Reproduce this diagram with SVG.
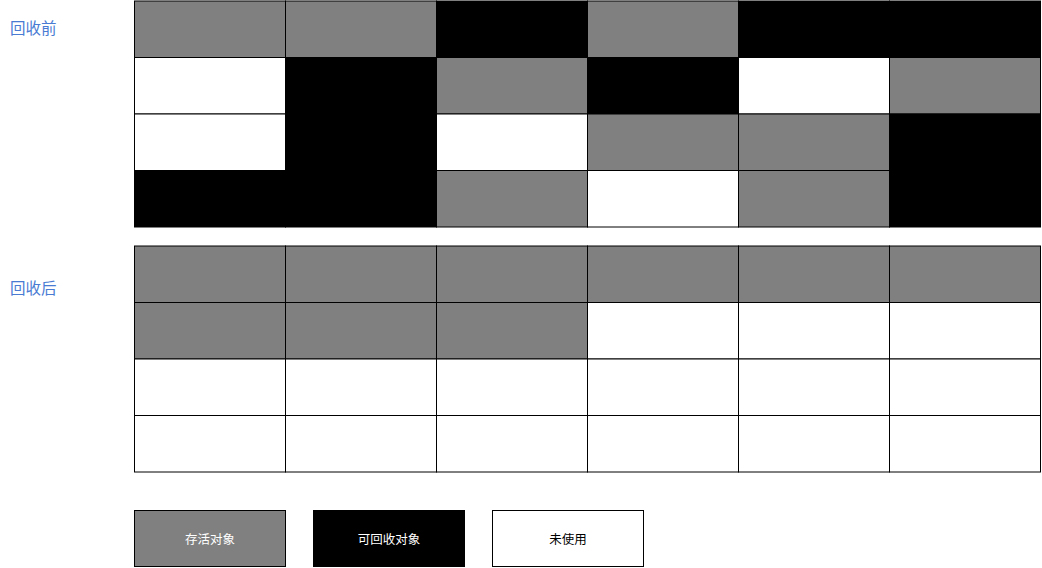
<svg xmlns="http://www.w3.org/2000/svg" width="1042" height="568" viewBox="0 0 1042 568">
<style>
.g{fill:#808080;stroke:#000;stroke-width:1}
.b{fill:#000;stroke:#000;stroke-width:1}
.w{fill:#fff;stroke:#000;stroke-width:1}
.lbl{font-family:"Noto Sans CJK SC","Liberation Sans",sans-serif;font-size:15.5px;fill:#4a7bd3}
.lt{font-family:"Noto Sans CJK SC","Liberation Sans",sans-serif;font-size:12.5px;text-anchor:middle;dominant-baseline:central}
</style>
<rect width="1042" height="568" fill="#fff"/>
<text class="lbl" x="10" y="34">回收前</text>
<text class="lbl" x="10" y="294">回收后</text>
<g id="before">
<rect class="g" x="134.5" y="1" width="151" height="56.5"/>
<rect class="g" x="285.5" y="1" width="151" height="56.5"/>
<rect class="b" x="436.5" y="1" width="151" height="56.5"/>
<rect class="g" x="587.5" y="1" width="151" height="56.5"/>
<rect class="b" x="738.5" y="1" width="151" height="56.5"/>
<rect class="b" x="889.5" y="1" width="151" height="56.5"/>
<rect class="w" x="134.5" y="57.5" width="151" height="56.5"/>
<rect class="b" x="285.5" y="57.5" width="151" height="56.5"/>
<rect class="g" x="436.5" y="57.5" width="151" height="56.5"/>
<rect class="b" x="587.5" y="57.5" width="151" height="56.5"/>
<rect class="w" x="738.5" y="57.5" width="151" height="56.5"/>
<rect class="g" x="889.5" y="57.5" width="151" height="56.5"/>
<rect class="w" x="134.5" y="114" width="151" height="56.5"/>
<rect class="b" x="285.5" y="114" width="151" height="56.5"/>
<rect class="w" x="436.5" y="114" width="151" height="56.5"/>
<rect class="g" x="587.5" y="114" width="151" height="56.5"/>
<rect class="g" x="738.5" y="114" width="151" height="56.5"/>
<rect class="b" x="889.5" y="114" width="151" height="56.5"/>
<rect class="b" x="134.5" y="170.5" width="151" height="56.5"/>
<rect class="b" x="285.5" y="170.5" width="151" height="56.5"/>
<rect class="g" x="436.5" y="170.5" width="151" height="56.5"/>
<rect class="w" x="587.5" y="170.5" width="151" height="56.5"/>
<rect class="g" x="738.5" y="170.5" width="151" height="56.5"/>
<rect class="b" x="889.5" y="170.5" width="151" height="56.5"/>
</g>
<g id="after">
<rect class="g" x="134.5" y="246" width="151" height="56.5"/>
<rect class="g" x="285.5" y="246" width="151" height="56.5"/>
<rect class="g" x="436.5" y="246" width="151" height="56.5"/>
<rect class="g" x="587.5" y="246" width="151" height="56.5"/>
<rect class="g" x="738.5" y="246" width="151" height="56.5"/>
<rect class="g" x="889.5" y="246" width="151" height="56.5"/>
<rect class="g" x="134.5" y="302.5" width="151" height="56.5"/>
<rect class="g" x="285.5" y="302.5" width="151" height="56.5"/>
<rect class="g" x="436.5" y="302.5" width="151" height="56.5"/>
<rect class="w" x="587.5" y="302.5" width="151" height="56.5"/>
<rect class="w" x="738.5" y="302.5" width="151" height="56.5"/>
<rect class="w" x="889.5" y="302.5" width="151" height="56.5"/>
<rect class="w" x="134.5" y="359" width="151" height="56.5"/>
<rect class="w" x="285.5" y="359" width="151" height="56.5"/>
<rect class="w" x="436.5" y="359" width="151" height="56.5"/>
<rect class="w" x="587.5" y="359" width="151" height="56.5"/>
<rect class="w" x="738.5" y="359" width="151" height="56.5"/>
<rect class="w" x="889.5" y="359" width="151" height="56.5"/>
<rect class="w" x="134.5" y="415.5" width="151" height="56.5"/>
<rect class="w" x="285.5" y="415.5" width="151" height="56.5"/>
<rect class="w" x="436.5" y="415.5" width="151" height="56.5"/>
<rect class="w" x="587.5" y="415.5" width="151" height="56.5"/>
<rect class="w" x="738.5" y="415.5" width="151" height="56.5"/>
<rect class="w" x="889.5" y="415.5" width="151" height="56.5"/>
</g>
<g id="legend-live">
<rect class="g" x="134.5" y="510.5" width="151" height="56"/>
<text class="lt" x="210" y="538.5" fill="#fff">存活对象</text>
</g>
<g id="legend-garbage">
<rect class="b" x="313.5" y="510.5" width="151" height="56"/>
<text class="lt" x="389" y="538.5" fill="#fff">可回收对象</text>
</g>
<g id="legend-unused">
<rect class="w" x="492.5" y="510.5" width="151" height="56"/>
<text class="lt" x="568" y="538.5" fill="#000">未使用</text>
</g>
<g id="connectors"></g>
</svg>
